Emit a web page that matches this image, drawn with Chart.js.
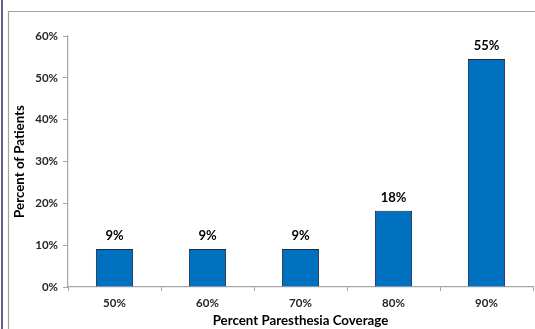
<!DOCTYPE html>
<html>
<head>
<meta charset="utf-8">
<script src="https://cdn.jsdelivr.net/npm/chart.js@4/dist/chart.umd.min.js"></script>
<style>
  html, body { margin: 0; padding: 0; background: #fff; }
  #wrap { width: 535px; height: 329px; }
</style>
</head>
<body>
<div id="wrap"><canvas id="coverageChart" width="535" height="329"></canvas></div>
<script>
const categories = ['50%', '60%', '70%', '80%', '90%'];
const patientPercent = [9.1, 9.1, 9.1, 18.2, 54.5];
const yTicks = [0, 10, 20, 30, 40, 50, 60];

const fontFamily = 'Lato, "Open Sans", sans-serif';

// frame lines round the chart, like the original slide
const framePlugin = {
    id: 'frame',
    beforeDraw(chart) {
        const ctx = chart.ctx;
        ctx.save();
        ctx.fillStyle = '#fff';
        ctx.fillRect(0, 0, chart.width, chart.height);
        ctx.strokeStyle = '#2d2b66';
        ctx.lineWidth = 1.5;
        ctx.beginPath();
        ctx.moveTo(2, 0);
        ctx.lineTo(2, chart.height);
        ctx.stroke();
        ctx.strokeStyle = '#a3a3a3';
        ctx.lineWidth = 1.2;
        ctx.beginPath();
        ctx.moveTo(8.5, chart.height);
        ctx.lineTo(8.5, 11.5);
        ctx.lineTo(chart.width, 11.5);
        ctx.stroke();
        ctx.restore();
    }
};

// value labels above each bar
const barLabelPlugin = {
    id: 'barLabels',
    afterDatasetsDraw(chart) {
        const ctx = chart.ctx;
        const meta = chart.getDatasetMeta(0);
        ctx.save();
        ctx.font = 'bold 13px ' + fontFamily;
        ctx.fillStyle = '#000';
        ctx.textAlign = 'center';
        ctx.textBaseline = 'middle';
        meta.data.forEach((bar, i) => {
            ctx.fillText(Math.round(patientPercent[i]) + '%', bar.x, bar.y - 13);
        });
        ctx.restore();
    }
};

const ctx = document.getElementById('coverageChart').getContext('2d');
new Chart(ctx, {
    type: 'bar',
    data: {
        labels: categories,
        datasets: [{
            data: patientPercent,
            backgroundColor: '#0070c0',
            borderColor: '#1b2a44',
            borderWidth: 1,
            barPercentage: 0.4,
            categoryPercentage: 1.0
        }]
    },
    options: {
        responsive: false,
        animation: false,
        layout: {
            padding: { left: 0, right: 2, top: 36, bottom: 0 }
        },
        plugins: {
            legend: { display: false },
            tooltip: { enabled: false }
        },
        scales: {
            x: {
                grid: {
                    offset: true,
                    drawOnChartArea: false,
                    tickLength: 4,
                    color: '#a6a6a6'
                },
                border: { color: '#a6a6a6', width: 1.2 },
                ticks: {
                    padding: 5,
                    color: '#262626',
                    font: { family: fontFamily, size: 11.5, weight: 'bold' }
                },
                title: {
                    display: true,
                    text: 'Percent Paresthesia Coverage',
                    color: '#000',
                    padding: { top: 0, bottom: 0 },
                    font: { family: fontFamily, size: 13.3, weight: 'bold' }
                },
                afterFit(scale) { scale.height = 42; }
            },
            y: {
                min: 0,
                max: 60,
                afterBuildTicks(scale) {
                    scale.ticks = yTicks.map(v => ({ value: v }));
                },
                grid: {
                    drawOnChartArea: false,
                    tickLength: 5,
                    color: '#a6a6a6'
                },
                border: { color: '#a6a6a6', width: 1.2 },
                ticks: {
                    padding: 5,
                    color: '#262626',
                    font: { family: fontFamily, size: 11.5, weight: 'bold' },
                    callback: v => v + '%'
                },
                title: {
                    display: true,
                    text: 'Percent of Patients',
                    color: '#000',
                    padding: { top: 12, bottom: 0 },
                    font: { family: fontFamily, size: 13.3, weight: 'bold' }
                },
                afterFit(scale) { scale.width = 68; }
            }
        }
    },
    plugins: [framePlugin, barLabelPlugin]
});
</script>
</body>
</html>
